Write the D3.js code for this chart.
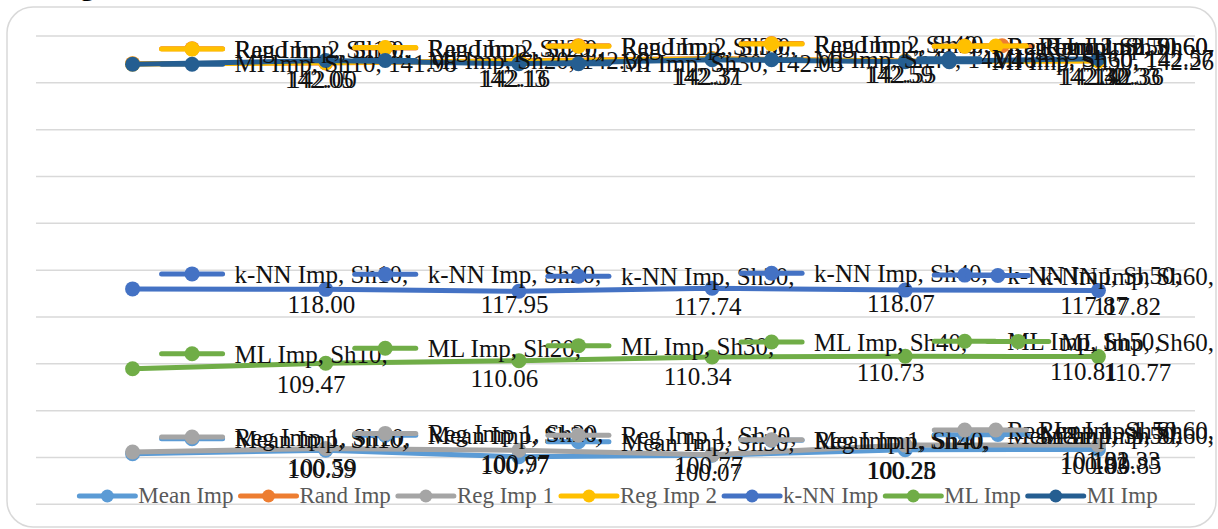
<!DOCTYPE html>
<html>
<head>
<meta charset="utf-8">
<script src="https://cdn.jsdelivr.net/npm/d3@7"></script>
<style>
  html, body { margin: 0; padding: 0; background: #fff; }
  svg { display: block; }
</style>
</head>
<body>
<svg id="chart" width="1218" height="529"></svg>
<script>
// Imputation results per shift level
const categories = ["Sh10", "Sh20", "Sh30", "Sh40", "Sh50", "Sh60"];
const seriesNames = ["Mean Imp", "Rand Imp", "Reg Imp 1", "Reg Imp 2", "k-NN Imp", "ML Imp", "MI Imp"];

const meanImp = [100.39, 100.77, 100.07, 100.25, 100.83, 100.85];
const randImp = [142.05, 142.13, 142.37, 142.59, 142.32, 142.36];
const regImp1 = [100.59, 100.97, 100.77, 100.28, 101.32, 101.33];
const regImp2 = [142.00, 142.16, 142.31, 142.55, 142.30, 142.33];
const knnImp  = [118.00, 117.95, 117.74, 118.07, 117.87, 117.82];
const mlImp   = [109.47, 110.06, 110.34, 110.73, 110.81, 110.77];
const miImp   = [141.98, 142.38, 142.03, 142.46, 142.26, 142.57];

const yTicks = [95, 100, 105, 110, 115, 120, 125, 130, 135, 140, 145];

const seriesValues = [meanImp, randImp, regImp1, regImp2, knnImp, mlImp, miImp];
const seriesColors = ["#5B9BD5", "#ED7D31", "#A5A5A5", "#FFC000", "#4472C4", "#70AD47", "#255E91"];

const plot = { left: 36, right: 1195, top: 36, bottom: 504.3 };
const labelRightLimit = 1214;
const labelFont = "25px 'Liberation Serif', 'Times New Roman', serif";
const legendFont = "23px 'Liberation Serif', 'Times New Roman', serif";
const wrapWidth = 225;

const svg = d3.select("#chart");

// chart frame
svg.append("rect")
  .attr("x", 7).attr("y", 7)
  .attr("width", 1209).attr("height", 520)
  .attr("rx", 26).attr("ry", 26)
  .attr("fill", "#fff")
  .attr("stroke", "#D9D9D9")
  .attr("stroke-width", 1.5);

// fragment of the heading sitting above the frame
svg.append("text")
  .attr("x", 80).attr("y", -5)
  .style("font", "bold 30px 'Liberation Serif', serif")
  .attr("fill", "#000")
  .text("g");

const x = d3.scaleBand().domain(categories).range([plot.left, plot.right]);
const y = d3.scaleLinear().domain([95, 145]).range([plot.bottom, plot.top]);
const px = c => x(c) + x.bandwidth() / 2;

// horizontal gridlines
svg.append("g")
  .selectAll("line")
  .data(yTicks)
  .join("line")
  .attr("x1", plot.left).attr("x2", plot.right)
  .attr("y1", d => y(d)).attr("y2", d => y(d))
  .attr("stroke", "#D9D9D9")
  .attr("stroke-width", 1.5);

const series = seriesNames.map((name, k) => ({
  name,
  color: seriesColors[k],
  points: categories.map((c, i) => ({ cat: c, value: seriesValues[k][i] }))
}));

const line = d3.line().x(d => px(d.cat)).y(d => y(d.value));

// lines and markers
const sg = svg.append("g").selectAll("g").data(series).join("g");
sg.append("path")
  .attr("d", d => line(d.points))
  .attr("fill", "none")
  .attr("stroke", d => d.color)
  .attr("stroke-width", 5)
  .attr("stroke-linejoin", "round")
  .attr("stroke-linecap", "round");
sg.selectAll("circle")
  .data(d => d.points.map(p => ({ ...p, color: d.color })))
  .join("circle")
  .attr("cx", d => px(d.cat))
  .attr("cy", d => y(d.value))
  .attr("r", 7.5)
  .attr("fill", d => d.color);

// data labels with legend keys, placed to the right of each point
const labelLayer = svg.append("g");
function drawKey(g, x0, yc, color, len, r) {
  g.append("line")
    .attr("x1", x0).attr("x2", x0 + len)
    .attr("y1", yc).attr("y2", yc)
    .attr("stroke", color).attr("stroke-width", 5)
    .attr("stroke-linecap", "round");
  g.append("circle")
    .attr("cx", x0 + len / 2).attr("cy", yc)
    .attr("r", r).attr("fill", color);
}

function textWidth(g, t, font) {
  const t0 = g.append("text").style("font", font).text(t);
  const w = t0.node().getComputedTextLength();
  t0.remove();
  return w;
}

series.forEach(s => {
  s.points.forEach(p => {
    const cx = px(p.cat), cy = y(p.value);
    const g = labelLayer.append("g");
    const valueText = p.value.toFixed(2);
    const single = `${s.name}, ${p.cat}, ${valueText}`;

    let lines, baselines, keyY;
    if (textWidth(g, single, labelFont) <= wrapWidth) {
      lines = [single];
      baselines = [cy + 8];
      keyY = cy;
    } else {
      lines = [`${s.name}, ${p.cat},`, valueText];
      baselines = [cy - 6, cy + 24];
      keyY = cy - 15;
    }
    const boxW = d3.max(lines, t => textWidth(g, t, labelFont));
    let textLeft = cx + 102;
    if (textLeft + boxW > labelRightLimit) textLeft = labelRightLimit - boxW;

    drawKey(g, textLeft - 73, keyY, s.color, 61, 7.5);
    lines.forEach((t, j) => {
      g.append("text")
        .attr("x", textLeft + boxW / 2)
        .attr("y", baselines[j])
        .attr("text-anchor", "middle")
        .style("font", labelFont)
        .attr("fill", "#111")
        .text(t);
    });
  });
});

// legend
const legend = svg.append("g");
const legendY = 496;
const keyLen = 56;
const items = seriesNames.map((name, k) => ({ name, color: seriesColors[k], w: textWidth(legend, name, legendFont) }));
const gapText = 3, gapItem = 7;
const totalW = d3.sum(items, d => keyLen + gapText + d.w) + gapItem * (items.length - 1);
let lx = 618.5 - totalW / 2;
items.forEach(it => {
  drawKey(legend, lx, legendY, it.color, keyLen, 6.5);
  legend.append("text")
    .attr("x", lx + keyLen + gapText)
    .attr("y", legendY + 7)
    .style("font", legendFont)
    .attr("fill", "#595959")
    .text(it.name);
  lx += keyLen + gapText + it.w + gapItem;
});
</script>
</body>
</html>
